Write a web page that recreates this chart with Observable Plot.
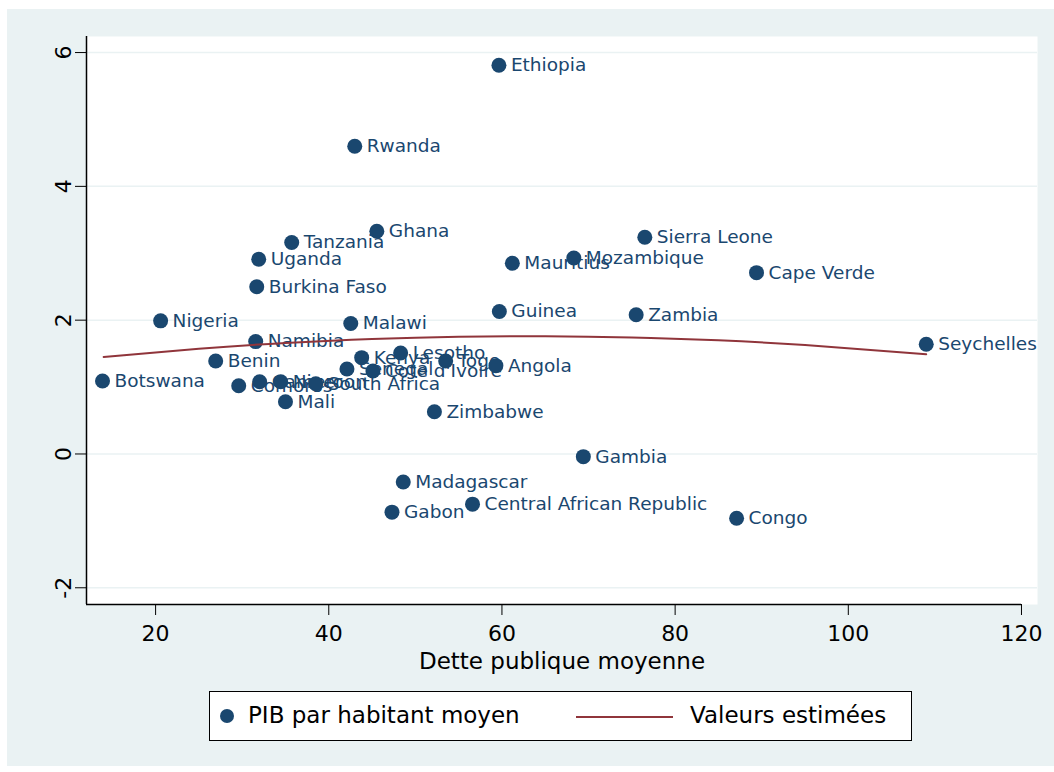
<!DOCTYPE html>
<html><head><meta charset="utf-8">
<script src="https://cdn.jsdelivr.net/npm/d3@7"></script>
<script src="https://cdn.jsdelivr.net/npm/@observablehq/plot@0.6"></script>
<style>
body{margin:0;background:#fff;font-family:"DejaVu Sans",sans-serif;}
#panel{position:absolute;left:7px;top:9px;width:1047px;height:757px;background:#eaf2f3;}
#legend{position:absolute;left:202px;top:682px;width:701px;height:48px;background:#fff;border:1px solid #000;font-size:23px;color:#000;}
#legend .dot{position:absolute;left:10px;top:17px;width:14px;height:14px;border-radius:50%;background:#1a476f;}
#legend .t1{position:absolute;left:38px;top:10px;white-space:nowrap;}
#legend .ln{position:absolute;left:366px;top:24px;width:97px;height:2px;background:#90353b;}
#legend .t2{position:absolute;left:480px;top:10px;white-space:nowrap;}
</style></head>
<body>
<div id="panel"><div id="chart"></div>
<div id="legend"><div class="dot"></div><span class="t1" id="lg1"></span><div class="ln"></div><span class="t2" id="lg2"></span></div>
</div>
<script>
const countries = ["Ethiopia","Rwanda","Ghana","Tanzania","Uganda","Burkina Faso","Nigeria","Malawi","Namibia","Benin","Botswana","Comoros","Cameroon","Niger","South Africa","Mali","Senegal","Kenya","Cote d'Ivoire","Lesotho","Togo","Angola","Zimbabwe","Guinea","Mauritius","Mozambique","Sierra Leone","Cape Verde","Zambia","Seychelles","Gambia","Madagascar","Central African Republic","Gabon","Congo"];
const debt = [59.65,43.0,45.55,35.72,31.91,31.68,20.58,42.54,31.56,26.94,13.87,29.6,32.02,34.45,38.5,35.0,42.1,43.8,45.1,48.3,53.5,59.3,52.2,59.7,61.2,68.3,76.5,89.4,75.5,109.0,69.4,48.6,56.6,47.3,87.1];
const gdp = [5.81,4.60,3.33,3.16,2.91,2.50,1.99,1.95,1.68,1.39,1.09,1.02,1.08,1.08,1.05,0.78,1.27,1.44,1.24,1.51,1.39,1.32,0.63,2.13,2.85,2.93,3.24,2.71,2.08,1.64,-0.04,-0.42,-0.75,-0.87,-0.96];
const fitX = [14,25,35,45,55,65,75,85,95,109];
const fitY = [1.45,1.574,1.659,1.718,1.752,1.76,1.741,1.698,1.628,1.49];
const xTicks = [20,40,60,80,100,120];
const yTicks = [-2,0,2,4,6];
const xTitle = "Dette publique moyenne";
const legendLabels = ["PIB par habitant moyen","Valeurs estimées"];
const xDomain = [12.02, 121.85];
const yDomain = [-2.25, 6.24];

const points = countries.map((c,i)=>({country:c, x:debt[i], y:gdp[i]}));
const fit = fitX.map((x,i)=>({x, y:fitY[i]}));
const fmt = d => String(d);

const plot = Plot.plot({
  width:1047, height:671,
  marginTop:27, marginBottom:76, marginLeft:79, marginRight:17,
  style:{background:"transparent", fontFamily:"DejaVu Sans", color:"#000"},
  x:{domain:xDomain},
  y:{domain:yDomain},
  marks:[
    Plot.frame({fill:"white", stroke:"none"}),
    Plot.gridY(yTicks, {stroke:"#eaf2f3", strokeOpacity:1, strokeWidth:1.5}),
    Plot.dot(points, {x:"x", y:"y", r:7.5, fill:"#1a476f"}),
    Plot.text(points, {x:"x", y:"y", text:"country", dx:12, textAnchor:"start", fontSize:18.5, fill:"#1a476f"}),
    Plot.line(fit, {x:"x", y:"y", stroke:"#90353b", strokeWidth:2, curve:"natural"}),
    Plot.ruleX([xDomain[0]], {stroke:"#000", strokeWidth:1.5}),
    Plot.ruleY([yDomain[0]], {x1:xDomain[0], x2:xTicks[xTicks.length-1], stroke:"#000", strokeWidth:1.5}),
    Plot.axisY(yTicks, {tickSize:11, tickRotate:-90, tickPadding:5, fontSize:22, label:null, tickFormat:fmt}),
    Plot.axisX(xTicks, {tickSize:11, tickPadding:10, fontSize:22, label:null, tickFormat:fmt}),
    Plot.text([xTitle], {frameAnchor:"bottom", dy:57, lineAnchor:"middle", fontSize:23, fill:"#000"})
  ]
});
document.getElementById("chart").appendChild(plot);
document.getElementById("lg1").textContent = legendLabels[0];
document.getElementById("lg2").textContent = legendLabels[1];
</script>
</body></html>
